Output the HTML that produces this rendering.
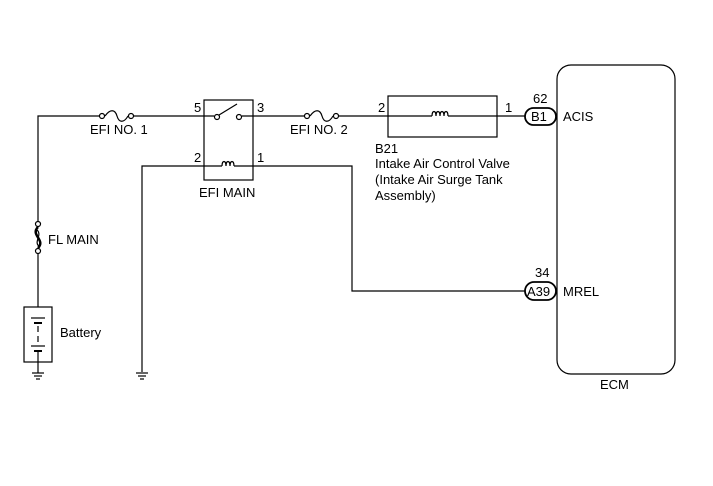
<!DOCTYPE html>
<html><head><style>
body{margin:0;background:#fff}
text{font-family:"Liberation Sans",Arial,sans-serif;font-size:13px;fill:#000}
</style></head><body>
<svg width="713" height="481" viewBox="0 0 713 481" xmlns="http://www.w3.org/2000/svg">
<g stroke="#000" stroke-width="1.2" fill="none">
<polyline points="38,222 38,116 100,116"/>
<line x1="133" y1="116" x2="214" y2="116"/>
<line x1="242" y1="116" x2="305" y2="116"/>
<line x1="338" y1="116" x2="432" y2="116"/>
<line x1="448" y1="116" x2="525" y2="116"/>
<circle cx="102" cy="116" r="2.5" fill="#fff"/><circle cx="131" cy="116" r="2.5" fill="#fff"/>
<path d="M105,116 C110,109 115,109 117,116 S124,123 128,116"/>
<circle cx="307" cy="116" r="2.5" fill="#fff"/><circle cx="336" cy="116" r="2.5" fill="#fff"/>
<path d="M310,116 C315,109 320,109 322,116 S329,123 333,116"/>
<rect x="204" y="100" width="49" height="80"/>
<circle cx="217" cy="117" r="2.5" fill="#fff"/><circle cx="239" cy="117" r="2.5" fill="#fff"/>
<line x1="219" y1="115" x2="237" y2="104"/>
<polyline points="142,372 142,166 222,166"/>
<path d="M222,166 c0,-6 4,-6 4,0 c0,-6 4,-6 4,0 c0,-6 4,-6 4,0"/>
<polyline points="234,166 352,166 352,291 525,291"/>
<rect x="388" y="96" width="109" height="41"/>
<path d="M432,116 c0,-6 4,-6 4,0 c0,-6 4,-6 4,0 c0,-6 4,-6 4,0 c0,-6 4,-6 4,0"/>
<circle cx="38" cy="224" r="2.5" fill="#fff"/><circle cx="38" cy="251" r="2.5" fill="#fff"/>
<path d="M38,227 C30,235 46,240 38,248" stroke-width="2.5"/>
<path d="M36,229 C44,235 32,242 40,247" stroke-width="1.2"/>
<line x1="38" y1="254" x2="38" y2="307"/>
<rect x="24" y="307" width="28" height="55"/>
<line x1="31" y1="318" x2="45" y2="318"/><line x1="34" y1="323" x2="42" y2="323" stroke-width="2"/>
<line x1="38" y1="326" x2="38" y2="332"/><line x1="38" y1="336" x2="38" y2="342"/>
<line x1="31" y1="346" x2="45" y2="346"/><line x1="34" y1="351" x2="42" y2="351" stroke-width="2"/>
<line x1="38" y1="351" x2="38" y2="373"/>
<line x1="32" y1="373" x2="44" y2="373"/><line x1="34" y1="376" x2="42" y2="376"/><line x1="36" y1="379" x2="40" y2="379"/>
<line x1="136" y1="373" x2="148" y2="373"/><line x1="138" y1="376" x2="146" y2="376"/><line x1="140" y1="379" x2="144" y2="379"/>
<rect x="557" y="65" width="118" height="309" rx="14"/>
<rect x="525" y="108" width="31" height="17" rx="8.5" stroke-width="1.8"/>
<rect x="525" y="282" width="31" height="18" rx="9" stroke-width="1.8"/>
</g>
<text x="90" y="134">EFI NO. 1</text>
<text x="290" y="134">EFI NO. 2</text>
<text x="194" y="112">5</text><text x="257" y="112">3</text>
<text x="194" y="162">2</text><text x="257" y="162">1</text>
<text x="199" y="197">EFI MAIN</text>
<text x="378" y="112">2</text><text x="505" y="112">1</text>
<text x="375" y="153">B21</text>
<text x="375" y="168">Intake Air Control Valve</text>
<text x="375" y="184">(Intake Air Surge Tank</text>
<text x="375" y="200">Assembly)</text>
<text x="533" y="103">62</text>
<text x="531" y="121">B1</text>
<text x="563" y="121">ACIS</text>
<text x="535" y="277">34</text>
<text x="527" y="296">A39</text>
<text x="563" y="296">MREL</text>
<text x="600" y="389">ECM</text>
<text x="48" y="244">FL MAIN</text>
<text x="60" y="337">Battery</text>
</svg>
</body></html>
